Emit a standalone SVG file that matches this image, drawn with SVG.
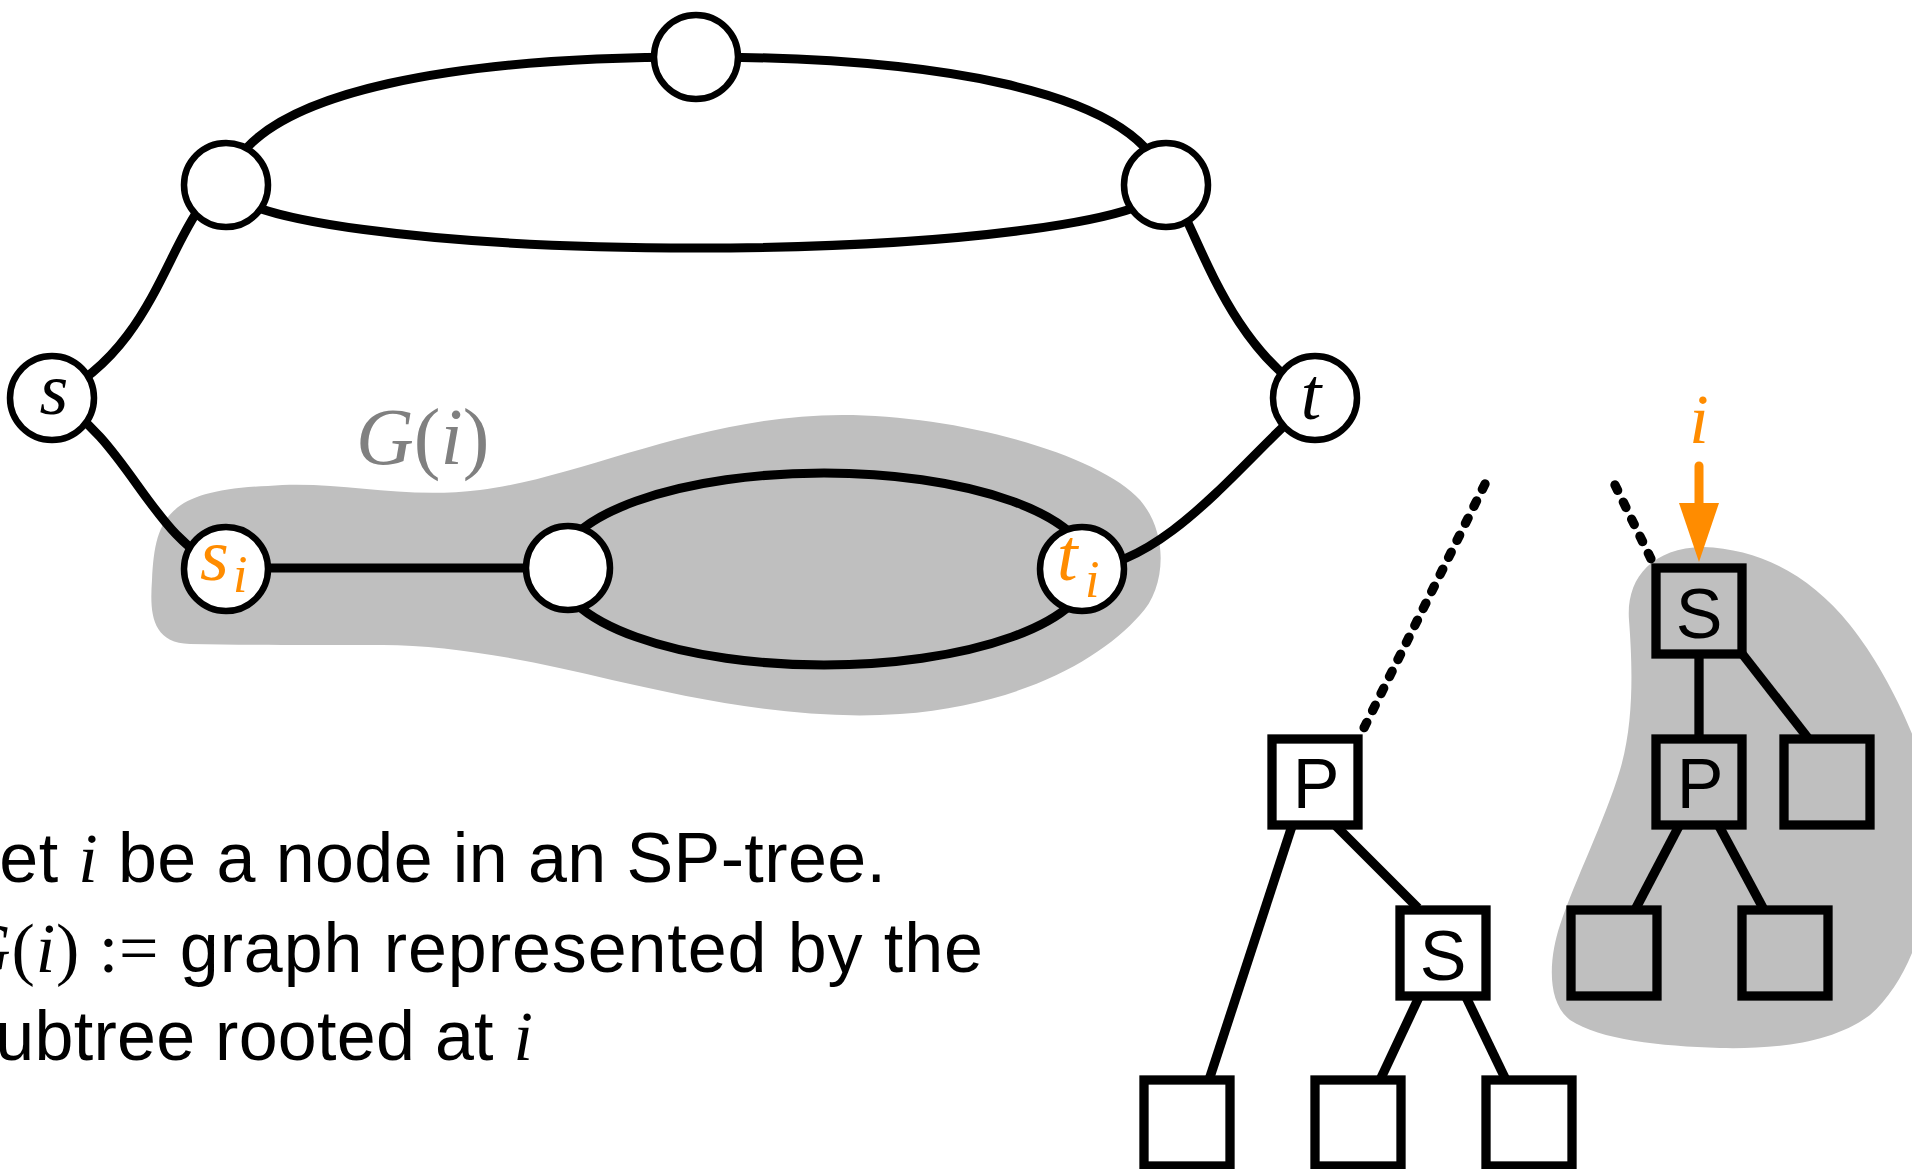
<svg xmlns="http://www.w3.org/2000/svg" width="1912" height="1169" viewBox="0 0 1912 1169">
  <style>
    .blob { fill: #bfbfbf; }
    .edge { fill: none; stroke: #000; stroke-width: 9; }
    .vtx { fill: #fff; stroke: #000; stroke-width: 6.5; }
    .tedge { fill: none; stroke: #000; stroke-width: 9.3; }
    .dash { stroke-dasharray: 6 13; stroke-linecap: round; }
    .box { stroke: #000; stroke-width: 9.3; }
    .wbox { fill: #fff; }
    .gbox { fill: #bfbfbf; }
    .math { font-family: "Liberation Serif", "DejaVu Serif", serif; font-style: italic; }
    .up { font-family: "Liberation Serif", "DejaVu Serif", serif; font-style: normal; }
    .sans { font-family: "Liberation Sans", Arial, sans-serif; }
    .blabel { font-family: "Liberation Sans", Arial, sans-serif; font-size: 70px; text-anchor: middle; fill: #000; }
    .orange { fill: #ff8c00; }
  </style>

  <!-- shaded regions: subgraph G(i) and subtree of i -->
  <g id="regions">
    <path class="blob" d="M268,486 C340,480 400,500 480,490 C580,478 700,415 842,415 C960,415 1100,455 1140,500 C1170,535 1165,590 1140,615 C1100,660 1020,705 900,714 C800,721 700,700 612,680 C530,660 450,645 383,645 C300,645 240,645 190,644 C150,643 150,610 152,580 C155,520 165,490 268,486 Z"/>
    <path class="blob" d="M1703,547 C1760,549 1810,575 1850,625 C1890,675 1930,760 1935,820 C1935,900 1915,975 1870,1015 C1830,1045 1770,1049 1720,1048 C1660,1046 1600,1040 1570,1020 C1545,1000 1550,955 1560,925 C1575,880 1605,820 1620,770 C1635,720 1632,660 1629,620 C1626,580 1650,548 1703,547 Z"/>
  </g>

  <text id="label-Gi" x="356" y="464" font-size="80" fill="#808080"><tspan class="math">G</tspan><tspan class="up">(</tspan><tspan class="math">i</tspan><tspan class="up">)</tspan></text>

  <!-- connectors -->
  <g id="connectors">
    <!-- series-parallel graph -->
    <path class="edge" d="M226,185 C250,85 480,57 696,57"/>
    <path class="edge" d="M696,57 C912,57 1142,85 1166,185"/>
    <path class="edge" d="M226,185 A470,63 0 0 0 1166,185"/>
    <path class="edge" d="M52,398 C165,345 170,210 226,185"/>
    <path class="edge" d="M1166,185 C1195,215 1219,340 1315,398"/>
    <path class="edge" d="M52,398 C130,440 150,540 226,569"/>
    <path class="edge" d="M1082,569 C1170,565 1250,450 1315,398"/>
    <path class="edge" d="M226,568 L568,568"/>
    <ellipse class="edge" cx="824" cy="569" rx="266" ry="96"/>

    <!-- SP-tree, left part -->
    <path class="tedge dash" d="M1485,484 L1360,736"/>
    <path class="tedge" d="M1292,826 L1209,1080"/>
    <path class="tedge" d="M1336,826 L1418,908"/>
    <path class="tedge" d="M1419,997 L1381,1078"/>
    <path class="tedge" d="M1466,997 L1505,1078"/>

    <!-- SP-tree, subtree of i -->
    <path class="tedge dash" d="M1615,485 L1653,563"/>
    <path class="tedge" d="M1699,650 L1699,740"/>
    <path class="tedge" d="M1740,651 L1808,738"/>
    <path class="tedge" d="M1679,826 L1636,908"/>
    <path class="tedge" d="M1719,826 L1763,908"/>

    <!-- pointer to node i -->
    <path d="M1699,466 L1699,506" fill="none" stroke="#ff8c00" stroke-width="9" stroke-linecap="round"/>
    <path d="M1679,503 L1719,503 L1699,562 Z" fill="#ff8c00"/>
  </g>

  <!-- graph vertices -->
  <g id="v-top"><circle class="vtx" cx="696" cy="57" r="42"/></g>
  <g id="v-left"><circle class="vtx" cx="226" cy="185" r="42"/></g>
  <g id="v-right"><circle class="vtx" cx="1166" cy="185" r="42"/></g>
  <g id="v-s">
    <circle class="vtx" cx="52" cy="398" r="42"/>
    <text class="math" x="54" y="414" font-size="74" text-anchor="middle">s</text>
  </g>
  <g id="v-t">
    <circle class="vtx" cx="1315" cy="398" r="42"/>
    <text class="math" x="1311" y="419" font-size="74" text-anchor="middle">t</text>
  </g>
  <g id="v-si">
    <circle class="vtx" cx="226" cy="569" r="42"/>
    <text class="math orange" font-size="74"><tspan x="200" y="580">s</tspan><tspan x="233" y="592" font-size="52">i</tspan></text>
  </g>
  <g id="v-mid"><circle class="vtx" cx="568" cy="568" r="42"/></g>
  <g id="v-ti">
    <circle class="vtx" cx="1082" cy="569" r="42"/>
    <text class="math orange" font-size="74"><tspan x="1057" y="580">t</tspan><tspan x="1085" y="597" font-size="52">i</tspan></text>
  </g>

  <!-- SP-tree nodes, left part -->
  <g id="t-P1">
    <rect class="box wbox" x="1272" y="739" width="86" height="86"/>
    <text class="blabel" x="1316" y="808">P</text>
  </g>
  <g id="t-S1">
    <rect class="box wbox" x="1400" y="910" width="86" height="86"/>
    <text class="blabel" x="1443" y="980">S</text>
  </g>
  <g id="t-L1"><rect class="box wbox" x="1144" y="1080" width="86" height="86"/></g>
  <g id="t-L2"><rect class="box wbox" x="1315" y="1080" width="86" height="86"/></g>
  <g id="t-L3"><rect class="box wbox" x="1486" y="1080" width="86" height="86"/></g>

  <!-- SP-tree nodes, subtree of i -->
  <g id="t-Si">
    <rect class="box gbox" x="1656" y="568" width="86" height="86"/>
    <text class="blabel" x="1699" y="638">S</text>
  </g>
  <g id="t-P2">
    <rect class="box gbox" x="1656" y="739" width="86" height="86"/>
    <text class="blabel" x="1700" y="808">P</text>
  </g>
  <g id="t-R"><rect class="box gbox" x="1784" y="739" width="86" height="86"/></g>
  <g id="t-LL"><rect class="box gbox" x="1571" y="910" width="86" height="86"/></g>
  <g id="t-LR"><rect class="box gbox" x="1742" y="910" width="86" height="86"/></g>

  <text id="label-i" class="math orange" x="1699" y="443" font-size="70" text-anchor="middle">i</text>

  <!-- definition text -->
  <g id="definition" class="sans" font-size="70" fill="#000">
    <text x="-40" y="882" textLength="926" lengthAdjust="spacing">Let <tspan class="math">i</tspan> be a node in an SP-tree.</text>
    <text x="-40" y="972" textLength="1023" lengthAdjust="spacing"><tspan class="math">G</tspan><tspan class="up">(</tspan><tspan class="math">i</tspan><tspan class="up">) :=</tspan> graph represented by the</text>
    <text x="-40" y="1060" textLength="573" lengthAdjust="spacing">subtree rooted at <tspan class="math">i</tspan></text>
  </g>
</svg>
